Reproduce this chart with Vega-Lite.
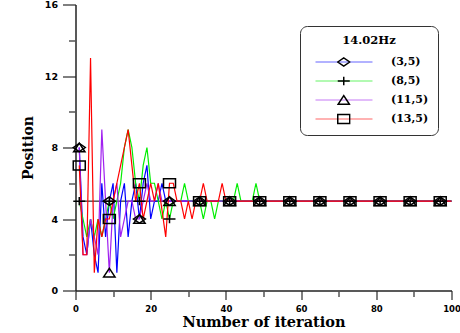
{
  "$schema": "https://vega.github.io/schema/vega-lite/v6.json",
  "width": 376,
  "height": 286,
  "autosize": "none",
  "padding": {"left": 75.5, "top": 4.5, "right": 8.5, "bottom": 42.5},
  "background": "white",
  "config": {"view": {"stroke": null}, "axis": {"grid": false}},
  "datasets": {
    "ref": [{"i0": 1, "i1": 100, "v": 5}],
    "pos": [
      {"s":"(3,5)","i":1,"v":8},{"s":"(3,5)","i":2,"v":3},{"s":"(3,5)","i":3,"v":2},{"s":"(3,5)","i":4,"v":4},{"s":"(3,5)","i":5,"v":2},
      {"s":"(3,5)","i":6,"v":1},{"s":"(3,5)","i":7,"v":6},{"s":"(3,5)","i":8,"v":3},{"s":"(3,5)","i":9,"v":5},{"s":"(3,5)","i":10,"v":6},
      {"s":"(3,5)","i":11,"v":1},{"s":"(3,5)","i":12,"v":5},{"s":"(3,5)","i":13,"v":6},{"s":"(3,5)","i":14,"v":3},{"s":"(3,5)","i":15,"v":5},
      {"s":"(3,5)","i":16,"v":6},{"s":"(3,5)","i":17,"v":4},{"s":"(3,5)","i":18,"v":6},{"s":"(3,5)","i":19,"v":7},{"s":"(3,5)","i":20,"v":4},
      {"s":"(3,5)","i":21,"v":5},{"s":"(3,5)","i":22,"v":5},{"s":"(3,5)","i":23,"v":6},{"s":"(3,5)","i":24,"v":5},{"s":"(3,5)","i":25,"v":5},
      {"s":"(3,5)","i":26,"v":5},{"s":"(3,5)","i":27,"v":5},{"s":"(3,5)","i":28,"v":5},{"s":"(3,5)","i":29,"v":5},{"s":"(3,5)","i":30,"v":5},
      {"s":"(3,5)","i":31,"v":5},{"s":"(3,5)","i":32,"v":5},{"s":"(3,5)","i":33,"v":5},{"s":"(3,5)","i":34,"v":5},{"s":"(3,5)","i":35,"v":5},
      {"s":"(3,5)","i":36,"v":5},{"s":"(3,5)","i":37,"v":5},{"s":"(3,5)","i":38,"v":5},{"s":"(3,5)","i":39,"v":5},{"s":"(3,5)","i":40,"v":5},
      {"s":"(3,5)","i":41,"v":5},{"s":"(3,5)","i":42,"v":5},{"s":"(3,5)","i":43,"v":5},{"s":"(3,5)","i":44,"v":5},{"s":"(3,5)","i":45,"v":5},
      {"s":"(3,5)","i":46,"v":5},{"s":"(3,5)","i":47,"v":5},{"s":"(3,5)","i":48,"v":5},{"s":"(3,5)","i":49,"v":5},{"s":"(3,5)","i":50,"v":5},
      {"s":"(3,5)","i":51,"v":5},{"s":"(3,5)","i":52,"v":5},{"s":"(3,5)","i":53,"v":5},{"s":"(3,5)","i":54,"v":5},{"s":"(3,5)","i":55,"v":5},
      {"s":"(3,5)","i":56,"v":5},{"s":"(3,5)","i":57,"v":5},{"s":"(3,5)","i":58,"v":5},{"s":"(3,5)","i":59,"v":5},{"s":"(3,5)","i":60,"v":5},
      {"s":"(3,5)","i":61,"v":5},{"s":"(3,5)","i":62,"v":5},{"s":"(3,5)","i":63,"v":5},{"s":"(3,5)","i":64,"v":5},{"s":"(3,5)","i":65,"v":5},
      {"s":"(3,5)","i":66,"v":5},{"s":"(3,5)","i":67,"v":5},{"s":"(3,5)","i":68,"v":5},{"s":"(3,5)","i":69,"v":5},{"s":"(3,5)","i":70,"v":5},
      {"s":"(3,5)","i":71,"v":5},{"s":"(3,5)","i":72,"v":5},{"s":"(3,5)","i":73,"v":5},{"s":"(3,5)","i":74,"v":5},{"s":"(3,5)","i":75,"v":5},
      {"s":"(3,5)","i":76,"v":5},{"s":"(3,5)","i":77,"v":5},{"s":"(3,5)","i":78,"v":5},{"s":"(3,5)","i":79,"v":5},{"s":"(3,5)","i":80,"v":5},
      {"s":"(3,5)","i":81,"v":5},{"s":"(3,5)","i":82,"v":5},{"s":"(3,5)","i":83,"v":5},{"s":"(3,5)","i":84,"v":5},{"s":"(3,5)","i":85,"v":5},
      {"s":"(3,5)","i":86,"v":5},{"s":"(3,5)","i":87,"v":5},{"s":"(3,5)","i":88,"v":5},{"s":"(3,5)","i":89,"v":5},{"s":"(3,5)","i":90,"v":5},
      {"s":"(3,5)","i":91,"v":5},{"s":"(3,5)","i":92,"v":5},{"s":"(3,5)","i":93,"v":5},{"s":"(3,5)","i":94,"v":5},{"s":"(3,5)","i":95,"v":5},
      {"s":"(3,5)","i":96,"v":5},{"s":"(3,5)","i":97,"v":5},{"s":"(3,5)","i":98,"v":5},{"s":"(3,5)","i":99,"v":5},{"s":"(3,5)","i":100,"v":5},

      {"s":"(8,5)","i":1,"v":5},{"s":"(8,5)","i":2,"v":4},{"s":"(8,5)","i":3,"v":3},{"s":"(8,5)","i":4,"v":4},{"s":"(8,5)","i":5,"v":3},
      {"s":"(8,5)","i":6,"v":4},{"s":"(8,5)","i":7,"v":3},{"s":"(8,5)","i":8,"v":4},{"s":"(8,5)","i":9,"v":5},{"s":"(8,5)","i":10,"v":4},
      {"s":"(8,5)","i":11,"v":5},{"s":"(8,5)","i":12,"v":6},{"s":"(8,5)","i":13,"v":8},{"s":"(8,5)","i":14,"v":9},{"s":"(8,5)","i":15,"v":8},
      {"s":"(8,5)","i":16,"v":6},{"s":"(8,5)","i":17,"v":5},{"s":"(8,5)","i":18,"v":7},{"s":"(8,5)","i":19,"v":8},{"s":"(8,5)","i":20,"v":6},
      {"s":"(8,5)","i":21,"v":6},{"s":"(8,5)","i":22,"v":5},{"s":"(8,5)","i":23,"v":4},{"s":"(8,5)","i":24,"v":5},{"s":"(8,5)","i":25,"v":4},
      {"s":"(8,5)","i":26,"v":5},{"s":"(8,5)","i":27,"v":5},{"s":"(8,5)","i":28,"v":5},{"s":"(8,5)","i":29,"v":6},{"s":"(8,5)","i":30,"v":5},
      {"s":"(8,5)","i":31,"v":5},{"s":"(8,5)","i":32,"v":5},{"s":"(8,5)","i":33,"v":5},{"s":"(8,5)","i":34,"v":4},{"s":"(8,5)","i":35,"v":5},
      {"s":"(8,5)","i":36,"v":5},{"s":"(8,5)","i":37,"v":4},{"s":"(8,5)","i":38,"v":5},{"s":"(8,5)","i":39,"v":5},{"s":"(8,5)","i":40,"v":5},
      {"s":"(8,5)","i":41,"v":5},{"s":"(8,5)","i":42,"v":5},{"s":"(8,5)","i":43,"v":6},{"s":"(8,5)","i":44,"v":5},{"s":"(8,5)","i":45,"v":5},
      {"s":"(8,5)","i":46,"v":5},{"s":"(8,5)","i":47,"v":5},{"s":"(8,5)","i":48,"v":6},{"s":"(8,5)","i":49,"v":5},{"s":"(8,5)","i":50,"v":5},
      {"s":"(8,5)","i":51,"v":5},{"s":"(8,5)","i":52,"v":5},{"s":"(8,5)","i":53,"v":5},{"s":"(8,5)","i":54,"v":5},{"s":"(8,5)","i":55,"v":5},
      {"s":"(8,5)","i":56,"v":5},{"s":"(8,5)","i":57,"v":5},{"s":"(8,5)","i":58,"v":5},{"s":"(8,5)","i":59,"v":5},{"s":"(8,5)","i":60,"v":5},
      {"s":"(8,5)","i":61,"v":5},{"s":"(8,5)","i":62,"v":5},{"s":"(8,5)","i":63,"v":5},{"s":"(8,5)","i":64,"v":5},{"s":"(8,5)","i":65,"v":5},
      {"s":"(8,5)","i":66,"v":5},{"s":"(8,5)","i":67,"v":5},{"s":"(8,5)","i":68,"v":5},{"s":"(8,5)","i":69,"v":5},{"s":"(8,5)","i":70,"v":5},
      {"s":"(8,5)","i":71,"v":5},{"s":"(8,5)","i":72,"v":5},{"s":"(8,5)","i":73,"v":5},{"s":"(8,5)","i":74,"v":5},{"s":"(8,5)","i":75,"v":5},
      {"s":"(8,5)","i":76,"v":5},{"s":"(8,5)","i":77,"v":5},{"s":"(8,5)","i":78,"v":5},{"s":"(8,5)","i":79,"v":5},{"s":"(8,5)","i":80,"v":5},
      {"s":"(8,5)","i":81,"v":5},{"s":"(8,5)","i":82,"v":5},{"s":"(8,5)","i":83,"v":5},{"s":"(8,5)","i":84,"v":5},{"s":"(8,5)","i":85,"v":5},
      {"s":"(8,5)","i":86,"v":5},{"s":"(8,5)","i":87,"v":5},{"s":"(8,5)","i":88,"v":5},{"s":"(8,5)","i":89,"v":5},{"s":"(8,5)","i":90,"v":5},
      {"s":"(8,5)","i":91,"v":5},{"s":"(8,5)","i":92,"v":5},{"s":"(8,5)","i":93,"v":5},{"s":"(8,5)","i":94,"v":5},{"s":"(8,5)","i":95,"v":5},
      {"s":"(8,5)","i":96,"v":5},{"s":"(8,5)","i":97,"v":5},{"s":"(8,5)","i":98,"v":5},{"s":"(8,5)","i":99,"v":5},{"s":"(8,5)","i":100,"v":5},

      {"s":"(11,5)","i":1,"v":8},{"s":"(11,5)","i":2,"v":2},{"s":"(11,5)","i":3,"v":2},{"s":"(11,5)","i":4,"v":4},{"s":"(11,5)","i":5,"v":3},
      {"s":"(11,5)","i":6,"v":2},{"s":"(11,5)","i":7,"v":9},{"s":"(11,5)","i":8,"v":5},{"s":"(11,5)","i":9,"v":1},{"s":"(11,5)","i":10,"v":5},
      {"s":"(11,5)","i":11,"v":6},{"s":"(11,5)","i":12,"v":3},{"s":"(11,5)","i":13,"v":4},{"s":"(11,5)","i":14,"v":5},{"s":"(11,5)","i":15,"v":5},
      {"s":"(11,5)","i":16,"v":4},{"s":"(11,5)","i":17,"v":4},{"s":"(11,5)","i":18,"v":5},{"s":"(11,5)","i":19,"v":6},{"s":"(11,5)","i":20,"v":5},
      {"s":"(11,5)","i":21,"v":5},{"s":"(11,5)","i":22,"v":6},{"s":"(11,5)","i":23,"v":5},{"s":"(11,5)","i":24,"v":5},{"s":"(11,5)","i":25,"v":5},
      {"s":"(11,5)","i":26,"v":5},{"s":"(11,5)","i":27,"v":5},{"s":"(11,5)","i":28,"v":5},{"s":"(11,5)","i":29,"v":5},{"s":"(11,5)","i":30,"v":5},
      {"s":"(11,5)","i":31,"v":5},{"s":"(11,5)","i":32,"v":5},{"s":"(11,5)","i":33,"v":5},{"s":"(11,5)","i":34,"v":5},{"s":"(11,5)","i":35,"v":5},
      {"s":"(11,5)","i":36,"v":5},{"s":"(11,5)","i":37,"v":5},{"s":"(11,5)","i":38,"v":5},{"s":"(11,5)","i":39,"v":5},{"s":"(11,5)","i":40,"v":5},
      {"s":"(11,5)","i":41,"v":5},{"s":"(11,5)","i":42,"v":5},{"s":"(11,5)","i":43,"v":5},{"s":"(11,5)","i":44,"v":5},{"s":"(11,5)","i":45,"v":5},
      {"s":"(11,5)","i":46,"v":5},{"s":"(11,5)","i":47,"v":5},{"s":"(11,5)","i":48,"v":5},{"s":"(11,5)","i":49,"v":5},{"s":"(11,5)","i":50,"v":5},
      {"s":"(11,5)","i":51,"v":5},{"s":"(11,5)","i":52,"v":5},{"s":"(11,5)","i":53,"v":5},{"s":"(11,5)","i":54,"v":5},{"s":"(11,5)","i":55,"v":5},
      {"s":"(11,5)","i":56,"v":5},{"s":"(11,5)","i":57,"v":5},{"s":"(11,5)","i":58,"v":5},{"s":"(11,5)","i":59,"v":5},{"s":"(11,5)","i":60,"v":5},
      {"s":"(11,5)","i":61,"v":5},{"s":"(11,5)","i":62,"v":5},{"s":"(11,5)","i":63,"v":5},{"s":"(11,5)","i":64,"v":5},{"s":"(11,5)","i":65,"v":5},
      {"s":"(11,5)","i":66,"v":5},{"s":"(11,5)","i":67,"v":5},{"s":"(11,5)","i":68,"v":5},{"s":"(11,5)","i":69,"v":5},{"s":"(11,5)","i":70,"v":5},
      {"s":"(11,5)","i":71,"v":5},{"s":"(11,5)","i":72,"v":5},{"s":"(11,5)","i":73,"v":5},{"s":"(11,5)","i":74,"v":5},{"s":"(11,5)","i":75,"v":5},
      {"s":"(11,5)","i":76,"v":5},{"s":"(11,5)","i":77,"v":5},{"s":"(11,5)","i":78,"v":5},{"s":"(11,5)","i":79,"v":5},{"s":"(11,5)","i":80,"v":5},
      {"s":"(11,5)","i":81,"v":5},{"s":"(11,5)","i":82,"v":5},{"s":"(11,5)","i":83,"v":5},{"s":"(11,5)","i":84,"v":5},{"s":"(11,5)","i":85,"v":5},
      {"s":"(11,5)","i":86,"v":5},{"s":"(11,5)","i":87,"v":5},{"s":"(11,5)","i":88,"v":5},{"s":"(11,5)","i":89,"v":5},{"s":"(11,5)","i":90,"v":5},
      {"s":"(11,5)","i":91,"v":5},{"s":"(11,5)","i":92,"v":5},{"s":"(11,5)","i":93,"v":5},{"s":"(11,5)","i":94,"v":5},{"s":"(11,5)","i":95,"v":5},
      {"s":"(11,5)","i":96,"v":5},{"s":"(11,5)","i":97,"v":5},{"s":"(11,5)","i":98,"v":5},{"s":"(11,5)","i":99,"v":5},{"s":"(11,5)","i":100,"v":5},

      {"s":"(13,5)","i":1,"v":7},{"s":"(13,5)","i":2,"v":2},{"s":"(13,5)","i":3,"v":2},{"s":"(13,5)","i":4,"v":13},{"s":"(13,5)","i":5,"v":1},
      {"s":"(13,5)","i":6,"v":4},{"s":"(13,5)","i":7,"v":3},{"s":"(13,5)","i":8,"v":4},{"s":"(13,5)","i":9,"v":4},{"s":"(13,5)","i":10,"v":5},
      {"s":"(13,5)","i":11,"v":6},{"s":"(13,5)","i":12,"v":7},{"s":"(13,5)","i":13,"v":8},{"s":"(13,5)","i":14,"v":9},{"s":"(13,5)","i":15,"v":7},
      {"s":"(13,5)","i":16,"v":5},{"s":"(13,5)","i":17,"v":6},{"s":"(13,5)","i":18,"v":4},{"s":"(13,5)","i":19,"v":5},{"s":"(13,5)","i":20,"v":6},
      {"s":"(13,5)","i":21,"v":5},{"s":"(13,5)","i":22,"v":6},{"s":"(13,5)","i":23,"v":4.5},{"s":"(13,5)","i":24,"v":3},{"s":"(13,5)","i":25,"v":6},
      {"s":"(13,5)","i":26,"v":6},{"s":"(13,5)","i":27,"v":5},{"s":"(13,5)","i":28,"v":5},{"s":"(13,5)","i":29,"v":4},{"s":"(13,5)","i":30,"v":5},
      {"s":"(13,5)","i":31,"v":4},{"s":"(13,5)","i":32,"v":5},{"s":"(13,5)","i":33,"v":5},{"s":"(13,5)","i":34,"v":6},{"s":"(13,5)","i":35,"v":5},
      {"s":"(13,5)","i":36,"v":5},{"s":"(13,5)","i":37,"v":5},{"s":"(13,5)","i":38,"v":5},{"s":"(13,5)","i":39,"v":6},{"s":"(13,5)","i":40,"v":5},
      {"s":"(13,5)","i":41,"v":5},{"s":"(13,5)","i":42,"v":5},{"s":"(13,5)","i":43,"v":5},{"s":"(13,5)","i":44,"v":5},{"s":"(13,5)","i":45,"v":5},
      {"s":"(13,5)","i":46,"v":5},{"s":"(13,5)","i":47,"v":5},{"s":"(13,5)","i":48,"v":5},{"s":"(13,5)","i":49,"v":5},{"s":"(13,5)","i":50,"v":5},
      {"s":"(13,5)","i":51,"v":5},{"s":"(13,5)","i":52,"v":5},{"s":"(13,5)","i":53,"v":5},{"s":"(13,5)","i":54,"v":5},{"s":"(13,5)","i":55,"v":5},
      {"s":"(13,5)","i":56,"v":5},{"s":"(13,5)","i":57,"v":5},{"s":"(13,5)","i":58,"v":5},{"s":"(13,5)","i":59,"v":5},{"s":"(13,5)","i":60,"v":5},
      {"s":"(13,5)","i":61,"v":5},{"s":"(13,5)","i":62,"v":5},{"s":"(13,5)","i":63,"v":5},{"s":"(13,5)","i":64,"v":5},{"s":"(13,5)","i":65,"v":5},
      {"s":"(13,5)","i":66,"v":5},{"s":"(13,5)","i":67,"v":5},{"s":"(13,5)","i":68,"v":5},{"s":"(13,5)","i":69,"v":5},{"s":"(13,5)","i":70,"v":5},
      {"s":"(13,5)","i":71,"v":5},{"s":"(13,5)","i":72,"v":5},{"s":"(13,5)","i":73,"v":5},{"s":"(13,5)","i":74,"v":5},{"s":"(13,5)","i":75,"v":5},
      {"s":"(13,5)","i":76,"v":5},{"s":"(13,5)","i":77,"v":5},{"s":"(13,5)","i":78,"v":5},{"s":"(13,5)","i":79,"v":5},{"s":"(13,5)","i":80,"v":5},
      {"s":"(13,5)","i":81,"v":5},{"s":"(13,5)","i":82,"v":5},{"s":"(13,5)","i":83,"v":5},{"s":"(13,5)","i":84,"v":5},{"s":"(13,5)","i":85,"v":5},
      {"s":"(13,5)","i":86,"v":5},{"s":"(13,5)","i":87,"v":5},{"s":"(13,5)","i":88,"v":5},{"s":"(13,5)","i":89,"v":5},{"s":"(13,5)","i":90,"v":5},
      {"s":"(13,5)","i":91,"v":5},{"s":"(13,5)","i":92,"v":5},{"s":"(13,5)","i":93,"v":5},{"s":"(13,5)","i":94,"v":5},{"s":"(13,5)","i":95,"v":5},
      {"s":"(13,5)","i":96,"v":5},{"s":"(13,5)","i":97,"v":5},{"s":"(13,5)","i":98,"v":5},{"s":"(13,5)","i":99,"v":5},{"s":"(13,5)","i":100,"v":5}
    ]
  },
  "resolve": {"axis": {"x": "independent", "y": "independent"}},
  "layer": [
    {
      "data": {"name": "ref"},
      "mark": {"type": "rule", "color": "black", "strokeWidth": 1},
      "encoding": {
        "x": {"field": "i0", "type": "quantitative", "scale": {"domain": [0, 100], "nice": false},
          "axis": {"orient": "bottom", "values": [0, 20, 40, 60, 80, 100], "tickSize": 9, "tickWidth": 1.5, "tickColor": "#555", "domainColor": "#222", "domainWidth": 1.5,
            "labelFont": "DejaVu Sans", "labelFontWeight": "bold", "labelFontSize": 8.5, "labelColor": "black", "labelPadding": 5, "labelFlush": false, "labelOverlap": false,
            "title": "Number of iteration", "titleFont": "DejaVu Serif", "titleFontWeight": "bold", "titleFontSize": 14.5, "titleColor": "black", "titlePadding": 2}},
        "x2": {"field": "i1"},
        "y": {"field": "v", "type": "quantitative", "scale": {"domain": [0, 16], "nice": false},
          "axis": {"orient": "left", "values": [0, 4, 8, 12, 16], "tickSize": 13, "tickWidth": 1.5, "tickColor": "#555", "domainColor": "#222", "domainWidth": 1.5,
            "labelFont": "DejaVu Sans", "labelFontWeight": "bold", "labelFontSize": 9.5, "labelColor": "black", "labelPadding": 5, "labelFlush": false, "labelOverlap": false,
            "title": "Position", "titleFont": "DejaVu Serif", "titleFontWeight": "bold", "titleFontSize": 14, "titleColor": "black", "titlePadding": 9}}
      }
    },
    {
      "data": {"name": "pos"},
      "mark": {"type": "line", "strokeWidth": 1.2},
      "encoding": {
        "x": {"field": "i", "type": "quantitative",
          "axis": {"orient": "bottom", "values": [10, 30, 50, 70, 90], "tickSize": 6, "tickWidth": 1.5, "tickColor": "#555", "domain": false, "labels": false, "title": null}},
        "y": {"field": "v", "type": "quantitative",
          "axis": {"orient": "left", "values": [2, 6, 10, 14], "tickSize": 7, "tickWidth": 1.5, "tickColor": "#555", "domain": false, "labels": false, "title": null}},
        "color": {"field": "s", "type": "nominal",
          "scale": {"domain": ["(3,5)", "(8,5)", "(11,5)", "(13,5)"], "range": ["#0000ff", "#00ee00", "#a020f0", "#ff0000"]},
          "legend": {"orient": "none", "legendX": 224.5, "legendY": 21.5,
            "title": "14.02Hz", "titleFont": "DejaVu Serif", "titleFontWeight": "bold", "titleFontSize": 11.5, "titleColor": "black", "titleAnchor": "middle", "titlePadding": 9,
            "labelFont": "DejaVu Serif", "labelFontWeight": "bold", "labelFontSize": 11, "labelColor": "black", "labelOffset": 12,
            "labelExpr": "datum.label + '\u2007\u2007'",
            "symbolType": "M-0.826,0L0.826,0", "symbolSize": 4761, "symbolStrokeWidth": 1, "symbolOpacity": 0.6,
            "clipHeight": 13, "rowPadding": 6, "padding": 9,
            "strokeColor": "#333", "fillColor": "white", "cornerRadius": 7}}
      }
    },
    {
      "data": {"name": "pos"},
      "transform": [{"filter": "datum.i % 8 == 1"}],
      "mark": {"type": "point", "filled": false, "color": "black", "strokeWidth": 1.5, "size": 144, "opacity": 1},
      "encoding": {
        "x": {"field": "i", "type": "quantitative", "axis": null},
        "y": {"field": "v", "type": "quantitative", "axis": null},
        "shape": {"field": "s", "type": "nominal", "sort": ["(3,5)", "(8,5)", "(11,5)", "(13,5)"],
          "scale": {"range": ["M-1,0L0,-0.7L1,0L0,0.7Z", "M-1,0L1,0M0,-0.7L0,0.7", "M-0.95,0.72L0,-0.72L0.95,0.72Z", "M-1,-0.75L1,-0.75L1,0.75L-1,0.75Z"]},
          "legend": {"orient": "none", "legendX": 261.25, "legendY": 51, "title": null,
            "labelExpr": "''", "labelFontSize": 11, "labelOffset": 0, "padding": 0, "clipHeight": 13, "rowPadding": 6,
            "symbolStrokeColor": "black", "symbolFillColor": "transparent", "symbolStrokeWidth": 1.5, "symbolSize": 144}}
      }
    }
  ]
}
